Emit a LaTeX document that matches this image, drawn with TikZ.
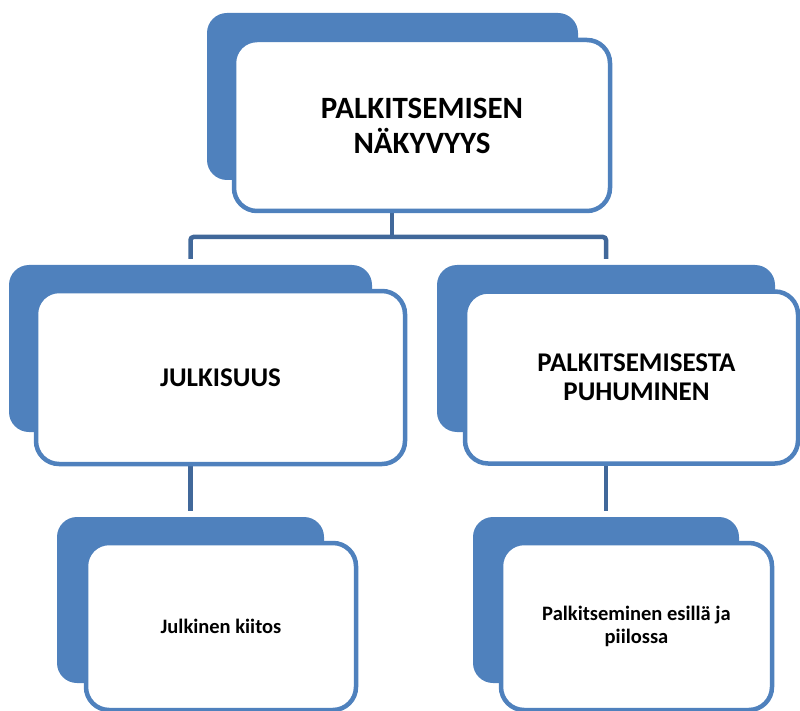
\documentclass[tikz,border=0pt]{standalone}
\usepackage{fontspec}
\setmainfont{Carlito}
\usetikzlibrary{backgrounds}
\definecolor{accent}{HTML}{4F81BD}
\definecolor{connblue}{HTML}{41689A}
\begin{document}
\begin{tikzpicture}[x=1pt,y=-1pt,
  backbox/.style={fill=accent, rounded corners=20pt, inner sep=0pt, minimum width=#1, minimum height=167pt},
  frontbox/.style={fill=white, draw=accent, line width=4.5pt, rounded corners=23pt, inner sep=0pt, align=center, font=\bfseries},
  connector/.style={draw=connblue, line width=4.5pt},
  bigtxt/.style={font=\fontsize{31}{35}\selectfont\bfseries},
  midtxt/.style={font=\fontsize{27}{29}\selectfont\bfseries},
  smalltxt/.style={font=\fontsize{20.5}{23.5}\selectfont\bfseries}
]
\useasboundingbox (0,0) rectangle (800,711);
\clip (0,0) rectangle (800,711);

% back shapes
\node[backbox=371pt] (b0) at (392.5,96.5) {};
\node[backbox=363pt] (b1) at (190.5,348.5) {};
\node[backbox=338pt] (b2) at (606,348.5) {};
\node[backbox=267pt, minimum height=166pt] (b3) at (190.5,600) {};
\node[backbox=266pt, minimum height=166pt] (b4) at (606,600) {};

% front boxes
\node[frontbox, bigtxt, minimum width=376pt, minimum height=171pt] (w0) at (422,125.5) {PALKITSEMISEN\\NÄKYVYYS};
\node[frontbox, midtxt, minimum width=369pt, minimum height=173pt] (w1) at (220.5,377.5) {JULKISUUS};
\node[frontbox, midtxt, minimum width=333pt, minimum height=172pt] (w2) at (631.5,377.5) {\hspace*{10pt}PALKITSEMISESTA\\\hspace*{10pt}PUHUMINEN};
\node[frontbox, smalltxt, minimum width=270pt, minimum height=167pt] (w3) at (221,626.5) {Julkinen kiitos};
\node[frontbox, smalltxt, minimum width=271pt, minimum height=167pt] (w4) at (636.5,626.5) {Palkitseminen esillä ja\\piilossa};

\coordinate (hub) at (392,237);

\begin{scope}[on background layer]
  \draw[connector] (w0.south -| hub) -- (hub);
  \draw[connector, rounded corners=3pt] ([yshift=6pt]b1.north) |- (hub) -| ([yshift=6pt]b2.north);
  \draw[connector] (w1.south -| b1.center) -- ([yshift=6pt]b3.north);
  \draw[connector] (w2.south -| b2.center) -- ([yshift=6pt]b4.north);
\end{scope}
\end{tikzpicture}
\end{document}
